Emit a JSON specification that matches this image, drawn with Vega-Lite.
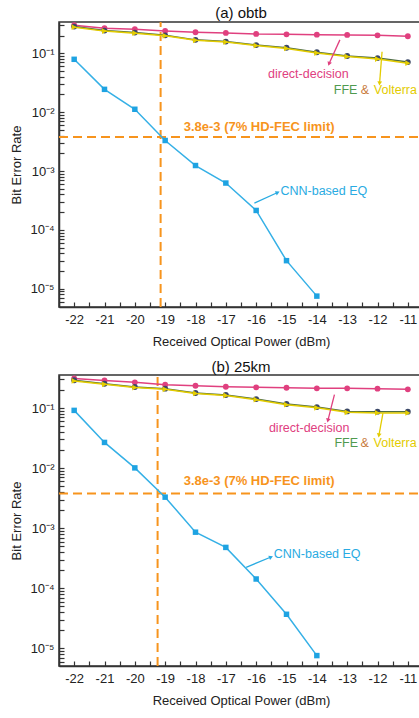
{
  "$schema": "https://vega.github.io/schema/vega-lite/v6.json",
  "padding": {"left": 10, "top": 5, "right": 0, "bottom": 0},
  "spacing": 10,
  "config": {
    "font": "Liberation Sans",
    "view": {"stroke": "#333", "strokeWidth": 1.5},
    "axis": {
      "grid": false,
      "domainColor": "#333",
      "domainWidth": 1.5,
      "tickColor": "#333",
      "tickWidth": 1.2,
      "tickSize": -5,
      "labelFont": "Liberation Sans",
      "labelFontSize": 13,
      "labelColor": "#222",
      "titleFont": "Liberation Sans",
      "titleFontSize": 13,
      "titleFontWeight": "normal",
      "titleColor": "#222",
      "labelOverlap": false,
      "labelFlush": false,
      "labelBound": false
    },
    "title": {"font": "Liberation Sans", "fontSize": 15, "fontWeight": "normal", "color": "#111", "offset": -2}
  },
  "datasets": {
    "ber": [
      {"panel": "a", "series": "direct-decision", "x": -22, "y": 0.30},
      {"panel": "a", "series": "direct-decision", "x": -21, "y": 0.267},
      {"panel": "a", "series": "direct-decision", "x": -20, "y": 0.256},
      {"panel": "a", "series": "direct-decision", "x": -19, "y": 0.24},
      {"panel": "a", "series": "direct-decision", "x": -18, "y": 0.228},
      {"panel": "a", "series": "direct-decision", "x": -17, "y": 0.222},
      {"panel": "a", "series": "direct-decision", "x": -16, "y": 0.213},
      {"panel": "a", "series": "direct-decision", "x": -15, "y": 0.21},
      {"panel": "a", "series": "direct-decision", "x": -14, "y": 0.207},
      {"panel": "a", "series": "direct-decision", "x": -13, "y": 0.205},
      {"panel": "a", "series": "direct-decision", "x": -12, "y": 0.202},
      {"panel": "a", "series": "direct-decision", "x": -11, "y": 0.195},
      {"panel": "a", "series": "FFE", "x": -22, "y": 0.284},
      {"panel": "a", "series": "FFE", "x": -21, "y": 0.243},
      {"panel": "a", "series": "FFE", "x": -20, "y": 0.225},
      {"panel": "a", "series": "FFE", "x": -19, "y": 0.202},
      {"panel": "a", "series": "FFE", "x": -18, "y": 0.169},
      {"panel": "a", "series": "FFE", "x": -17, "y": 0.158},
      {"panel": "a", "series": "FFE", "x": -16, "y": 0.138},
      {"panel": "a", "series": "FFE", "x": -15, "y": 0.124},
      {"panel": "a", "series": "FFE", "x": -14, "y": 0.104},
      {"panel": "a", "series": "FFE", "x": -13, "y": 0.09},
      {"panel": "a", "series": "FFE", "x": -12, "y": 0.083},
      {"panel": "a", "series": "FFE", "x": -11, "y": 0.071},
      {"panel": "a", "series": "Volterra", "x": -22, "y": 0.278},
      {"panel": "a", "series": "Volterra", "x": -21, "y": 0.238},
      {"panel": "a", "series": "Volterra", "x": -20, "y": 0.22},
      {"panel": "a", "series": "Volterra", "x": -19, "y": 0.198},
      {"panel": "a", "series": "Volterra", "x": -18, "y": 0.166},
      {"panel": "a", "series": "Volterra", "x": -17, "y": 0.155},
      {"panel": "a", "series": "Volterra", "x": -16, "y": 0.135},
      {"panel": "a", "series": "Volterra", "x": -15, "y": 0.121},
      {"panel": "a", "series": "Volterra", "x": -14, "y": 0.101},
      {"panel": "a", "series": "Volterra", "x": -13, "y": 0.088},
      {"panel": "a", "series": "Volterra", "x": -12, "y": 0.08},
      {"panel": "a", "series": "Volterra", "x": -11, "y": 0.068},
      {"panel": "a", "series": "CNN-based EQ", "x": -22, "y": 0.079},
      {"panel": "a", "series": "CNN-based EQ", "x": -21, "y": 0.0244},
      {"panel": "a", "series": "CNN-based EQ", "x": -20, "y": 0.0112},
      {"panel": "a", "series": "CNN-based EQ", "x": -19, "y": 0.0033},
      {"panel": "a", "series": "CNN-based EQ", "x": -18, "y": 0.00124},
      {"panel": "a", "series": "CNN-based EQ", "x": -17, "y": 0.000625},
      {"panel": "a", "series": "CNN-based EQ", "x": -16, "y": 0.000214},
      {"panel": "a", "series": "CNN-based EQ", "x": -15, "y": 0.00003},
      {"panel": "a", "series": "CNN-based EQ", "x": -14, "y": 0.0000075},
      {"panel": "b", "series": "direct-decision", "x": -22, "y": 0.31},
      {"panel": "b", "series": "direct-decision", "x": -21, "y": 0.288},
      {"panel": "b", "series": "direct-decision", "x": -20, "y": 0.268},
      {"panel": "b", "series": "direct-decision", "x": -19, "y": 0.245},
      {"panel": "b", "series": "direct-decision", "x": -18, "y": 0.235},
      {"panel": "b", "series": "direct-decision", "x": -17, "y": 0.226},
      {"panel": "b", "series": "direct-decision", "x": -16, "y": 0.221},
      {"panel": "b", "series": "direct-decision", "x": -15, "y": 0.218},
      {"panel": "b", "series": "direct-decision", "x": -14, "y": 0.213},
      {"panel": "b", "series": "direct-decision", "x": -13, "y": 0.213},
      {"panel": "b", "series": "direct-decision", "x": -12, "y": 0.21},
      {"panel": "b", "series": "direct-decision", "x": -11, "y": 0.205},
      {"panel": "b", "series": "FFE", "x": -22, "y": 0.29},
      {"panel": "b", "series": "FFE", "x": -21, "y": 0.254},
      {"panel": "b", "series": "FFE", "x": -20, "y": 0.224},
      {"panel": "b", "series": "FFE", "x": -19, "y": 0.21},
      {"panel": "b", "series": "FFE", "x": -18, "y": 0.178},
      {"panel": "b", "series": "FFE", "x": -17, "y": 0.165},
      {"panel": "b", "series": "FFE", "x": -16, "y": 0.141},
      {"panel": "b", "series": "FFE", "x": -15, "y": 0.117},
      {"panel": "b", "series": "FFE", "x": -14, "y": 0.104},
      {"panel": "b", "series": "FFE", "x": -13, "y": 0.088},
      {"panel": "b", "series": "FFE", "x": -12, "y": 0.087},
      {"panel": "b", "series": "FFE", "x": -11, "y": 0.087},
      {"panel": "b", "series": "Volterra", "x": -22, "y": 0.283},
      {"panel": "b", "series": "Volterra", "x": -21, "y": 0.248},
      {"panel": "b", "series": "Volterra", "x": -20, "y": 0.219},
      {"panel": "b", "series": "Volterra", "x": -19, "y": 0.205},
      {"panel": "b", "series": "Volterra", "x": -18, "y": 0.175},
      {"panel": "b", "series": "Volterra", "x": -17, "y": 0.162},
      {"panel": "b", "series": "Volterra", "x": -16, "y": 0.138},
      {"panel": "b", "series": "Volterra", "x": -15, "y": 0.114},
      {"panel": "b", "series": "Volterra", "x": -14, "y": 0.101},
      {"panel": "b", "series": "Volterra", "x": -13, "y": 0.085},
      {"panel": "b", "series": "Volterra", "x": -12, "y": 0.083},
      {"panel": "b", "series": "Volterra", "x": -11, "y": 0.083},
      {"panel": "b", "series": "CNN-based EQ", "x": -22, "y": 0.0915},
      {"panel": "b", "series": "CNN-based EQ", "x": -21, "y": 0.0268},
      {"panel": "b", "series": "CNN-based EQ", "x": -20, "y": 0.0101},
      {"panel": "b", "series": "CNN-based EQ", "x": -19, "y": 0.00329},
      {"panel": "b", "series": "CNN-based EQ", "x": -18, "y": 0.00086},
      {"panel": "b", "series": "CNN-based EQ", "x": -17, "y": 0.00048},
      {"panel": "b", "series": "CNN-based EQ", "x": -16, "y": 0.000143},
      {"panel": "b", "series": "CNN-based EQ", "x": -15, "y": 0.000037},
      {"panel": "b", "series": "CNN-based EQ", "x": -14, "y": 0.0000076}
    ],
    "refs": [
      {"panel": "a", "x": -22.5, "x2": -10.5, "y": 0.0038, "y2": 0.0038},
      {"panel": "a", "x": -19.15, "x2": -19.15, "y": 0.0000049, "y2": 0.34},
      {"panel": "b", "x": -22.5, "x2": -10.5, "y": 0.0038, "y2": 0.0038},
      {"panel": "b", "x": -19.25, "x2": -19.25, "y": 0.0000051, "y2": 0.355}
    ],
    "notes": [
      {"panel": "a", "label": "direct-decision", "text": "direct-decision", "x": -15.61, "y": 0.0444},
      {"panel": "a", "label": "FFE", "text": "FFE", "x": -13.44, "y": 0.0237},
      {"panel": "a", "label": "&", "text": "&", "x": -12.55, "y": 0.0237},
      {"panel": "a", "label": "Volterra", "text": "Volterra", "x": -12.12, "y": 0.0237},
      {"panel": "a", "label": "CNN-based EQ", "text": "CNN-based EQ", "x": -15.2, "y": 0.00045},
      {"panel": "b", "label": "direct-decision", "text": "direct-decision", "x": -15.58, "y": 0.0464},
      {"panel": "b", "label": "FFE", "text": "FFE", "x": -13.42, "y": 0.0261},
      {"panel": "b", "label": "&", "text": "&", "x": -12.56, "y": 0.0261},
      {"panel": "b", "label": "Volterra", "text": "Volterra", "x": -12.13, "y": 0.0261},
      {"panel": "b", "label": "CNN-based EQ", "text": "CNN-based EQ", "x": -15.42, "y": 0.000373}
    ],
    "fec": [
      {"panel": "a", "text": "3.8e-3 (7% HD-FEC limit)", "x": -18.39, "y": 0.0056},
      {"panel": "b", "text": "3.8e-3 (7% HD-FEC limit)", "x": -18.39, "y": 0.0062}
    ],
    "arrows": [
      {"panel": "a", "label": "direct-decision", "x": -13.59, "y": 0.0676, "x2": -13.24, "y2": 0.169},
      {"panel": "a", "label": "Volterra", "x": -11.93, "y": 0.0316, "x2": -11.85, "y2": 0.106},
      {"panel": "a", "label": "CNN-based EQ", "x": -15.31, "y": 0.000428, "x2": -16.06, "y2": 0.000285},
      {"panel": "b", "label": "direct-decision", "x": -13.63, "y": 0.0638, "x2": -13.42, "y2": 0.167},
      {"panel": "b", "label": "Volterra", "x": -11.95, "y": 0.0359, "x2": -11.82, "y2": 0.0825},
      {"panel": "b", "label": "CNN-based EQ", "x": -15.53, "y": 0.000329, "x2": -16.33, "y2": 0.000224}
    ]
  },
  "vconcat": [
    {
      "title": {"text": "(a) obtb"},
      "width": 364,
      "height": 285,
      "encoding": {
        "x": {"field": "x", "type": "quantitative", "title": "Received Optical Power (dBm)",
          "scale": {"domain": [-22.5, -10.5], "nice": false, "zero": false},
          "axis": {"values": [-22.5,-22,-21.5,-21,-20.5,-20,-19.5,-19,-18.5,-18,-17.5,-17,-16.5,-16,-15.5,-15,-14.5,-14,-13.5,-13,-12.5,-12,-11.5,-11,-10.5],
            "labelExpr": "datum.value % 1 === 0 ? '' + datum.value : ''", "labelPadding": 11, "titlePadding": 9,
            "encode": {"ticks": {"update": {"y2": {"signal": "datum.value % 1 === 0 ? -6 : -3"}}}}}},
        "y": {"field": "y", "type": "quantitative", "title": "Bit Error Rate",
          "scale": {"type": "log", "domain": [0.0000049, 0.34], "nice": false},
          "axis": {"values": [0.000006,0.000007,0.000008,0.000009,0.00001,0.00002,0.00003,0.00004,0.00005,0.00006,0.00007,0.00008,0.00009,0.0001,0.0002,0.0003,0.0004,0.0005,0.0006,0.0007,0.0008,0.0009,0.001,0.002,0.003,0.004,0.005,0.006,0.007,0.008,0.009,0.01,0.02,0.03,0.04,0.05,0.06,0.07,0.08,0.09,0.1,0.2,0.3],
            "labelExpr": "abs(datum.value / pow(10, round(log(datum.value) / LN10)) - 1) < 0.001 ? '10\u207b' + ['\u2070','\u00b9','\u00b2','\u00b3','\u2074','\u2075','\u2076'][-round(log(datum.value) / LN10)] : ''",
            "labelPadding": 10, "titlePadding": 6,
            "encode": {"ticks": {"update": {"x2": {"signal": "abs(datum.value / pow(10, round(log(datum.value) / LN10)) - 1) < 0.001 ? 6 : 3"}}}}}}
      },
      "layer": [
        {"data": {"name": "refs"}, "transform": [{"filter": "datum.panel === 'a'"}],
          "mark": {"type": "rule", "color": "#f7941d", "strokeWidth": 2, "strokeDash": [9, 5]},
          "encoding": {"x2": {"field": "x2"}, "y2": {"field": "y2"}}},
        {"data": {"name": "ber"}, "transform": [{"filter": "datum.panel === 'a' && datum.series === 'direct-decision'"}],
          "mark": {"type": "line", "color": "#e0407f", "strokeWidth": 1.5, "point": {"filled": true, "shape": "circle", "size": 34, "color": "#e0407f"}}},
        {"data": {"name": "ber"}, "transform": [{"filter": "datum.panel === 'a' && datum.series === 'FFE'"}],
          "mark": {"type": "line", "color": "#4d6b43", "strokeWidth": 1.5, "point": {"filled": true, "shape": "circle", "size": 34, "color": "#3b4868"}}},
        {"data": {"name": "ber"}, "transform": [{"filter": "datum.panel === 'a' && datum.series === 'Volterra'"}],
          "mark": {"type": "line", "color": "#e3cc00", "strokeWidth": 1.5, "point": {"filled": true, "shape": "triangle-right", "size": 34, "color": "#e6cf00"}}},
        {"data": {"name": "ber"}, "transform": [{"filter": "datum.panel === 'a' && datum.series === 'CNN-based EQ'"}],
          "mark": {"type": "line", "color": "#35b0e6", "strokeWidth": 1.5, "point": {"filled": true, "shape": "square", "size": 30, "color": "#1ea3e2"}}},
        {"data": {"name": "arrows"}, "transform": [{"filter": "datum.panel === 'a'"}],
          "mark": {"type": "rule", "strokeWidth": 1.3},
          "encoding": {"x2": {"field": "x2"}, "y2": {"field": "y2"},
            "color": {"field": "label", "type": "nominal", "legend": null, "scale": {"domain": ["direct-decision","FFE","&","Volterra","CNN-based EQ"], "range": ["#e0407f","#4f9a4f","#c87a3b","#e3cc00","#29abe2"]}}}},
        {"data": {"name": "arrows"}, "transform": [{"filter": "datum.panel === 'a' && datum.label === 'direct-decision'"}],
          "mark": {"type": "point", "shape": "triangle", "filled": true, "size": 22, "angle": 200, "color": "#e0407f", "opacity": 1}},
        {"data": {"name": "arrows"}, "transform": [{"filter": "datum.panel === 'a' && datum.label === 'Volterra'"}],
          "mark": {"type": "point", "shape": "triangle", "filled": true, "size": 22, "angle": 185, "color": "#e3cc00", "opacity": 1}},
        {"data": {"name": "arrows"}, "transform": [{"filter": "datum.panel === 'a' && datum.label === 'CNN-based EQ'"}],
          "mark": {"type": "point", "shape": "triangle", "filled": true, "size": 22, "angle": 66, "color": "#29abe2", "opacity": 1}},
        {"data": {"name": "notes"}, "transform": [{"filter": "datum.panel === 'a'"}],
          "mark": {"type": "text", "align": "left", "baseline": "middle", "fontSize": 12.5},
          "encoding": {"text": {"field": "text"},
            "color": {"field": "label", "type": "nominal", "legend": null, "scale": {"domain": ["direct-decision","FFE","&","Volterra","CNN-based EQ"], "range": ["#e0407f","#4f9a4f","#c87a3b","#e3cc00","#29abe2"]}}}},
        {"data": {"name": "fec"}, "transform": [{"filter": "datum.panel === 'a'"}],
          "mark": {"type": "text", "align": "left", "baseline": "middle", "fontSize": 13, "fontWeight": "bold", "color": "#f7941d"},
          "encoding": {"text": {"field": "text"}}}
      ]
    },
    {
      "title": {"text": "(b) 25km"},
      "width": 364,
      "height": 291,
      "encoding": {
        "x": {"field": "x", "type": "quantitative", "title": "Received Optical Power (dBm)",
          "scale": {"domain": [-22.5, -10.5], "nice": false, "zero": false},
          "axis": {"values": [-22.5,-22,-21.5,-21,-20.5,-20,-19.5,-19,-18.5,-18,-17.5,-17,-16.5,-16,-15.5,-15,-14.5,-14,-13.5,-13,-12.5,-12,-11.5,-11,-10.5],
            "labelExpr": "datum.value % 1 === 0 ? '' + datum.value : ''", "labelPadding": 11, "titlePadding": 9,
            "encode": {"ticks": {"update": {"y2": {"signal": "datum.value % 1 === 0 ? -6 : -3"}}}}}},
        "y": {"field": "y", "type": "quantitative", "title": "Bit Error Rate",
          "scale": {"type": "log", "domain": [0.0000051, 0.355], "nice": false},
          "axis": {"values": [0.000006,0.000007,0.000008,0.000009,0.00001,0.00002,0.00003,0.00004,0.00005,0.00006,0.00007,0.00008,0.00009,0.0001,0.0002,0.0003,0.0004,0.0005,0.0006,0.0007,0.0008,0.0009,0.001,0.002,0.003,0.004,0.005,0.006,0.007,0.008,0.009,0.01,0.02,0.03,0.04,0.05,0.06,0.07,0.08,0.09,0.1,0.2,0.3],
            "labelExpr": "abs(datum.value / pow(10, round(log(datum.value) / LN10)) - 1) < 0.001 ? '10\u207b' + ['\u2070','\u00b9','\u00b2','\u00b3','\u2074','\u2075','\u2076'][-round(log(datum.value) / LN10)] : ''",
            "labelPadding": 10, "titlePadding": 6,
            "encode": {"ticks": {"update": {"x2": {"signal": "abs(datum.value / pow(10, round(log(datum.value) / LN10)) - 1) < 0.001 ? 6 : 3"}}}}}}
      },
      "layer": [
        {"data": {"name": "refs"}, "transform": [{"filter": "datum.panel === 'b'"}],
          "mark": {"type": "rule", "color": "#f7941d", "strokeWidth": 2, "strokeDash": [9, 5]},
          "encoding": {"x2": {"field": "x2"}, "y2": {"field": "y2"}}},
        {"data": {"name": "ber"}, "transform": [{"filter": "datum.panel === 'b' && datum.series === 'direct-decision'"}],
          "mark": {"type": "line", "color": "#e0407f", "strokeWidth": 1.5, "point": {"filled": true, "shape": "circle", "size": 34, "color": "#e0407f"}}},
        {"data": {"name": "ber"}, "transform": [{"filter": "datum.panel === 'b' && datum.series === 'FFE'"}],
          "mark": {"type": "line", "color": "#4d6b43", "strokeWidth": 1.5, "point": {"filled": true, "shape": "circle", "size": 34, "color": "#3b4868"}}},
        {"data": {"name": "ber"}, "transform": [{"filter": "datum.panel === 'b' && datum.series === 'Volterra'"}],
          "mark": {"type": "line", "color": "#e3cc00", "strokeWidth": 1.5, "point": {"filled": true, "shape": "triangle-right", "size": 34, "color": "#e6cf00"}}},
        {"data": {"name": "ber"}, "transform": [{"filter": "datum.panel === 'b' && datum.series === 'CNN-based EQ'"}],
          "mark": {"type": "line", "color": "#35b0e6", "strokeWidth": 1.5, "point": {"filled": true, "shape": "square", "size": 30, "color": "#1ea3e2"}}},
        {"data": {"name": "arrows"}, "transform": [{"filter": "datum.panel === 'b'"}],
          "mark": {"type": "rule", "strokeWidth": 1.3},
          "encoding": {"x2": {"field": "x2"}, "y2": {"field": "y2"},
            "color": {"field": "label", "type": "nominal", "legend": null, "scale": {"domain": ["direct-decision","FFE","&","Volterra","CNN-based EQ"], "range": ["#e0407f","#4f9a4f","#c87a3b","#e3cc00","#29abe2"]}}}},
        {"data": {"name": "arrows"}, "transform": [{"filter": "datum.panel === 'b' && datum.label === 'direct-decision'"}],
          "mark": {"type": "point", "shape": "triangle", "filled": true, "size": 22, "angle": 194, "color": "#e0407f", "opacity": 1}},
        {"data": {"name": "arrows"}, "transform": [{"filter": "datum.panel === 'b' && datum.label === 'Volterra'"}],
          "mark": {"type": "point", "shape": "triangle", "filled": true, "size": 22, "angle": 189, "color": "#e3cc00", "opacity": 1}},
        {"data": {"name": "arrows"}, "transform": [{"filter": "datum.panel === 'b' && datum.label === 'CNN-based EQ'"}],
          "mark": {"type": "point", "shape": "triangle", "filled": true, "size": 22, "angle": 67, "color": "#29abe2", "opacity": 1}},
        {"data": {"name": "notes"}, "transform": [{"filter": "datum.panel === 'b'"}],
          "mark": {"type": "text", "align": "left", "baseline": "middle", "fontSize": 12.5},
          "encoding": {"text": {"field": "text"},
            "color": {"field": "label", "type": "nominal", "legend": null, "scale": {"domain": ["direct-decision","FFE","&","Volterra","CNN-based EQ"], "range": ["#e0407f","#4f9a4f","#c87a3b","#e3cc00","#29abe2"]}}}},
        {"data": {"name": "fec"}, "transform": [{"filter": "datum.panel === 'b'"}],
          "mark": {"type": "text", "align": "left", "baseline": "middle", "fontSize": 13, "fontWeight": "bold", "color": "#f7941d"},
          "encoding": {"text": {"field": "text"}}}
      ]
    }
  ]
}
